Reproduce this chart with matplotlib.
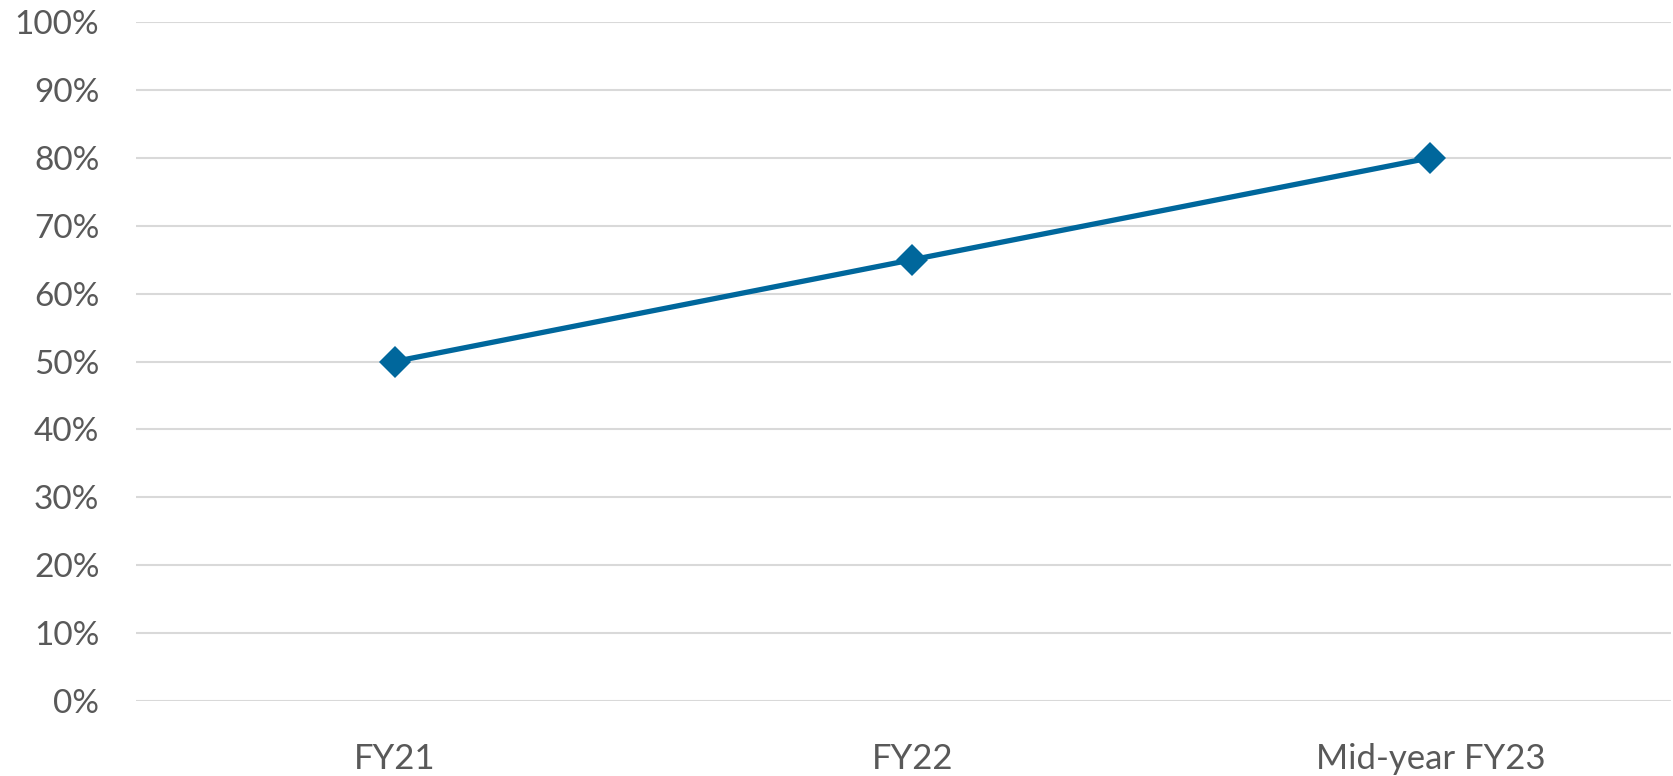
import matplotlib
matplotlib.use('Agg')
from matplotlib import pyplot
from matplotlib.ticker import PercentFormatter, MultipleLocator

categories = ['FY21', 'FY22', 'Mid-year FY23']
values = [50, 65, 80]

LINE_COLOR = '#00679C'
TEXT_COLOR = '#595959'
GRID_COLOR = '#D9D9D9'

pyplot.rcParams['font.family'] = ['Lato', 'DejaVu Sans']

fig = pyplot.figure(figsize=(16.73, 7.76), dpi=100)
ax = fig.add_axes([0.081, 0.0966, 0.918, 0.875])

x = range(len(categories))
ax.plot(x, values, color=LINE_COLOR, linewidth=3.8, marker='D', markersize=16,
        markeredgewidth=0, zorder=3)

# category axis is cut a little on the right in the original
ax.set_xlim(-0.5, 2.465)
ax.set_ylim(0, 100)
ax.yaxis.set_major_locator(MultipleLocator(10))
ax.yaxis.set_major_formatter(PercentFormatter(decimals=0))
ax.set_xticks(list(x))
ax.set_xticklabels(categories)

ax.grid(axis='y', color=GRID_COLOR, linewidth=1.5)
ax.set_axisbelow(True)
for side in ['top', 'right', 'left', 'bottom']:
    ax.spines[side].set_visible(False)
ax.tick_params(axis='both', length=0, labelsize=24, labelcolor=TEXT_COLOR)
ax.tick_params(axis='x', labelsize=25, pad=30)
ax.tick_params(axis='y', pad=26)

fig.savefig('out.png', dpi=100)
